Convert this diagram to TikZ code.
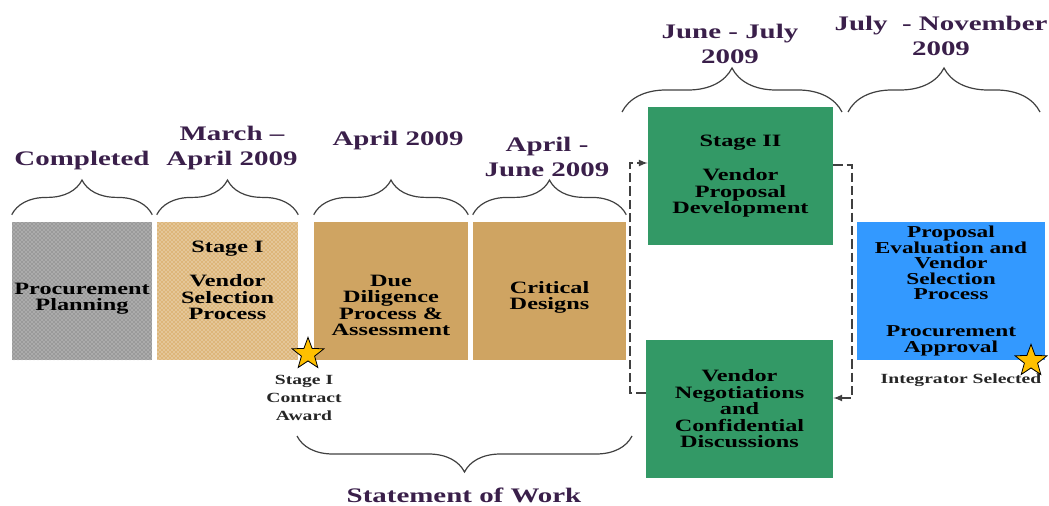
\documentclass[tikz,border=0pt]{standalone}
\usepackage{fontspec}
\newfontfamily\chartfont[FakeStretch=1.4]{Liberation Serif}
\usetikzlibrary{positioning,shapes.geometric,patterns,decorations.pathreplacing}

\definecolor{tanbox}{HTML}{CFA462}
\definecolor{tanlight}{HTML}{DDB67A}
\definecolor{greybox}{HTML}{9A9A9A}
\definecolor{greenbox}{HTML}{339966}
\definecolor{bluebox}{HTML}{3399FF}
\definecolor{datetext}{HTML}{3A1F4A}
\definecolor{starfill}{HTML}{FFC000}

\begin{document}
\begin{tikzpicture}[x=0.75pt, y=-0.75pt,
        phasebox/.style={rectangle, minimum height=103.5pt, inner sep=1pt, align=center,
            font=\chartfont\bfseries\fontsize{13}{12.4}\selectfont},
        datehead/.style={anchor=south, inner sep=0pt, align=center, text=datetext,
            font=\chartfont\bfseries\fontsize{15.5}{19}\selectfont},
        smalltext/.style={inner sep=0pt, align=center, text=black!85,
            font=\chartfont\bfseries\fontsize{10.5}{13.5}\selectfont},
        curly/.style={decorate, decoration={brace, amplitude=#1}, draw=black!75, line width=0.9pt},
        milestone/.style={star, star points=5, star point ratio=2.4, minimum size=25pt,
            inner sep=0pt, fill=starfill, draw=black, line width=0.6pt},
        feedback/.style={draw=black!75, line width=1.3pt, dash pattern=on 7pt off 3pt, -latex}]
            \useasboundingbox (0,0) rectangle (1049,506);

            % phases
            \node (plan) [phasebox, minimum width=105pt, preaction={fill=greybox}, pattern=crosshatch dots, pattern color=white!90!black] at (82,291) {\mbox{}\\[8pt]Procurement\\Planning};
            \node (sel) [phasebox, minimum width=105.75pt, preaction={fill=tanlight}, pattern=crosshatch dots, pattern color=white] at (227.5,291) {Stage I\\[13pt]Vendor\\Selection\\Process\\[3.5pt]\mbox{}};
            \node (due) [phasebox, minimum width=115.5pt, fill=tanbox] at (391,291) {\mbox{}\\[18pt]Due\\Diligence\\Process \&\\Assessment};
            \node (crit) [phasebox, minimum width=114.75pt, fill=tanbox] at (549.5,291) {\mbox{}\\[6pt]Critical\\Designs};
            \node (dev) [phasebox, minimum width=138.75pt, fill=greenbox] at (740.5,176) {Stage II\\[13.5pt]Vendor\\Proposal\\Development};
            \node (neg) [phasebox, minimum width=140.25pt, fill=greenbox] at (739.5,409) {Vendor\\Negotiations\\and\\Confidential\\Discussions};
            \node (eval) [phasebox, minimum width=141pt, fill=bluebox, font=\chartfont\bfseries\fontsize{12.5}{11.6}\selectfont] at (951,291) {Proposal\\Evaluation and\\Vendor\\Selection\\Process\\[16pt]Procurement\\Approval};

            % dates
            \node (planhead) [datehead] at (82,170) {Completed};
            \node (selhead) [datehead] at (232,170) {March –\\April 2009};
            \node (duehead) [datehead] at (398,150) {April 2009};
            \node (crithead) [datehead] at (547,177) {April -\\June 2009};
            \node (devhead) [datehead] at (730,64) {June - July\\2009};
            \node (evalhead) [datehead] at (941,56) {July \ - November\\2009};
            \node (sowlabel) [datehead, anchor=center] at (464,495) {Statement of Work};

            \draw[curly=26pt] ([shift={(0,-7)}]plan.north west) -- ([shift={(0,-7)}]plan.north east);
            \draw[curly=26pt] ([shift={(0,-7)}]sel.north west) -- ([shift={(0,-7)}]sel.north east);
            \draw[curly=26pt] ([shift={(0,-7)}]due.north west) -- ([shift={(0,-7)}]due.north east);
            \draw[curly=26pt] ([shift={(0,-7)}]crit.north west) -- ([shift={(0,-7)}]crit.north east);
            \draw[curly=33pt] (622,112) -- (842,112);
            \draw[curly=33pt] (848,112) -- (1040,112);
            \draw[curly=27pt] (632,436) -- (297,436);

            % milestones
            \node (award) [milestone] at (308,354) {};
            \node (awardtext) [smalltext] at (304,398) {Stage I\\Contract\\Award};
            \node (selectedtext) [smalltext] at (961,380) {Integrator Selected};
            \node (selected) [milestone] at (1031,361) {};

            \draw[feedback] ([shift={(0,-16)}]neg.west) -- ++(-16,0) |- ([shift={(0,-13)}]dev.west);
            \draw[feedback] ([shift={(0,-11)}]dev.east) -- ++(19,0) |- ([shift={(0,-11)}]neg.east);
\end{tikzpicture}
\end{document}
